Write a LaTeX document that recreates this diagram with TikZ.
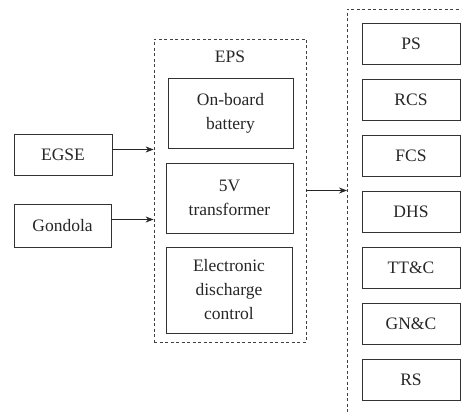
\documentclass[tikz,border=0pt]{standalone}
\usepackage{fontspec}
\setmainfont{Liberation Serif}
\newfontfamily\tmsfont{Liberation Serif}
\usetikzlibrary{arrows.meta}
\begin{document}
\begin{tikzpicture}[x=1pt,y=-1pt,
  blk/.style={draw=black!80, line width=0.9pt, inner sep=0pt, align=center,
    font=\tmsfont\fontsize{17.5}{24}\selectfont, text=black!85},
  dashbox/.style={draw=black!75, line width=0.8pt, dash pattern=on 3pt off 2.5pt},
  arr/.style={draw=black!85, line width=0.8pt, -{Stealth[length=8pt,width=6pt]}}]
\useasboundingbox (0,0) rectangle (461,412);
% left inputs
\node[blk, minimum width=98pt, minimum height=41pt] (egse) at (63,154.5) {EGSE};
\node[blk, minimum width=97pt, minimum height=43pt] (gondola) at (62.5,225.5) {Gondola};
% EPS container
\node[dashbox, minimum width=152pt, minimum height=303pt, inner sep=0pt] (eps) at (230,190.5) {};
\node[blk, draw=none] (epslabel) at (230,57) {EPS};
\node[blk, minimum width=125pt, minimum height=70pt] (battery) at (230.5,113.5) {On-board\\battery};
\node[blk, minimum width=127pt, minimum height=70pt] (trans) at (229.5,198) {5V\\transformer};
\node[blk, minimum width=126pt, minimum height=86pt] (edc) at (229,290) {Electronic\\discharge\\control};
% right container (open to the right and bottom)
\coordinate (rtop) at (347,9);
\coordinate (rbot) at (347,412);
\coordinate (rright) at (461,9);
\coordinate (rin) at (347,190.5);
\draw[dashbox] (rbot) -- (rtop) -- (rright);
% subsystems
\foreach \n/\t [count=\i from 0] in {ps/PS, rcs/RCS, fcs/FCS, dhs/DHS, ttc/TT\&C, gnc/GN\&C, rs/RS}{
  \node[blk, minimum width=98pt, minimum height=41pt] (\n) at (411,43.5+56*\i) {\t};
}
% connectors
\draw[arr] ([yshift=5pt]egse.east) -- ([yshift=5pt]egse.east -| eps.west);
\draw[arr] ([yshift=6pt]gondola.east) -- ([yshift=6pt]gondola.east -| eps.west);
\draw[arr] (eps.east) -- (rin);
\end{tikzpicture}
\end{document}
